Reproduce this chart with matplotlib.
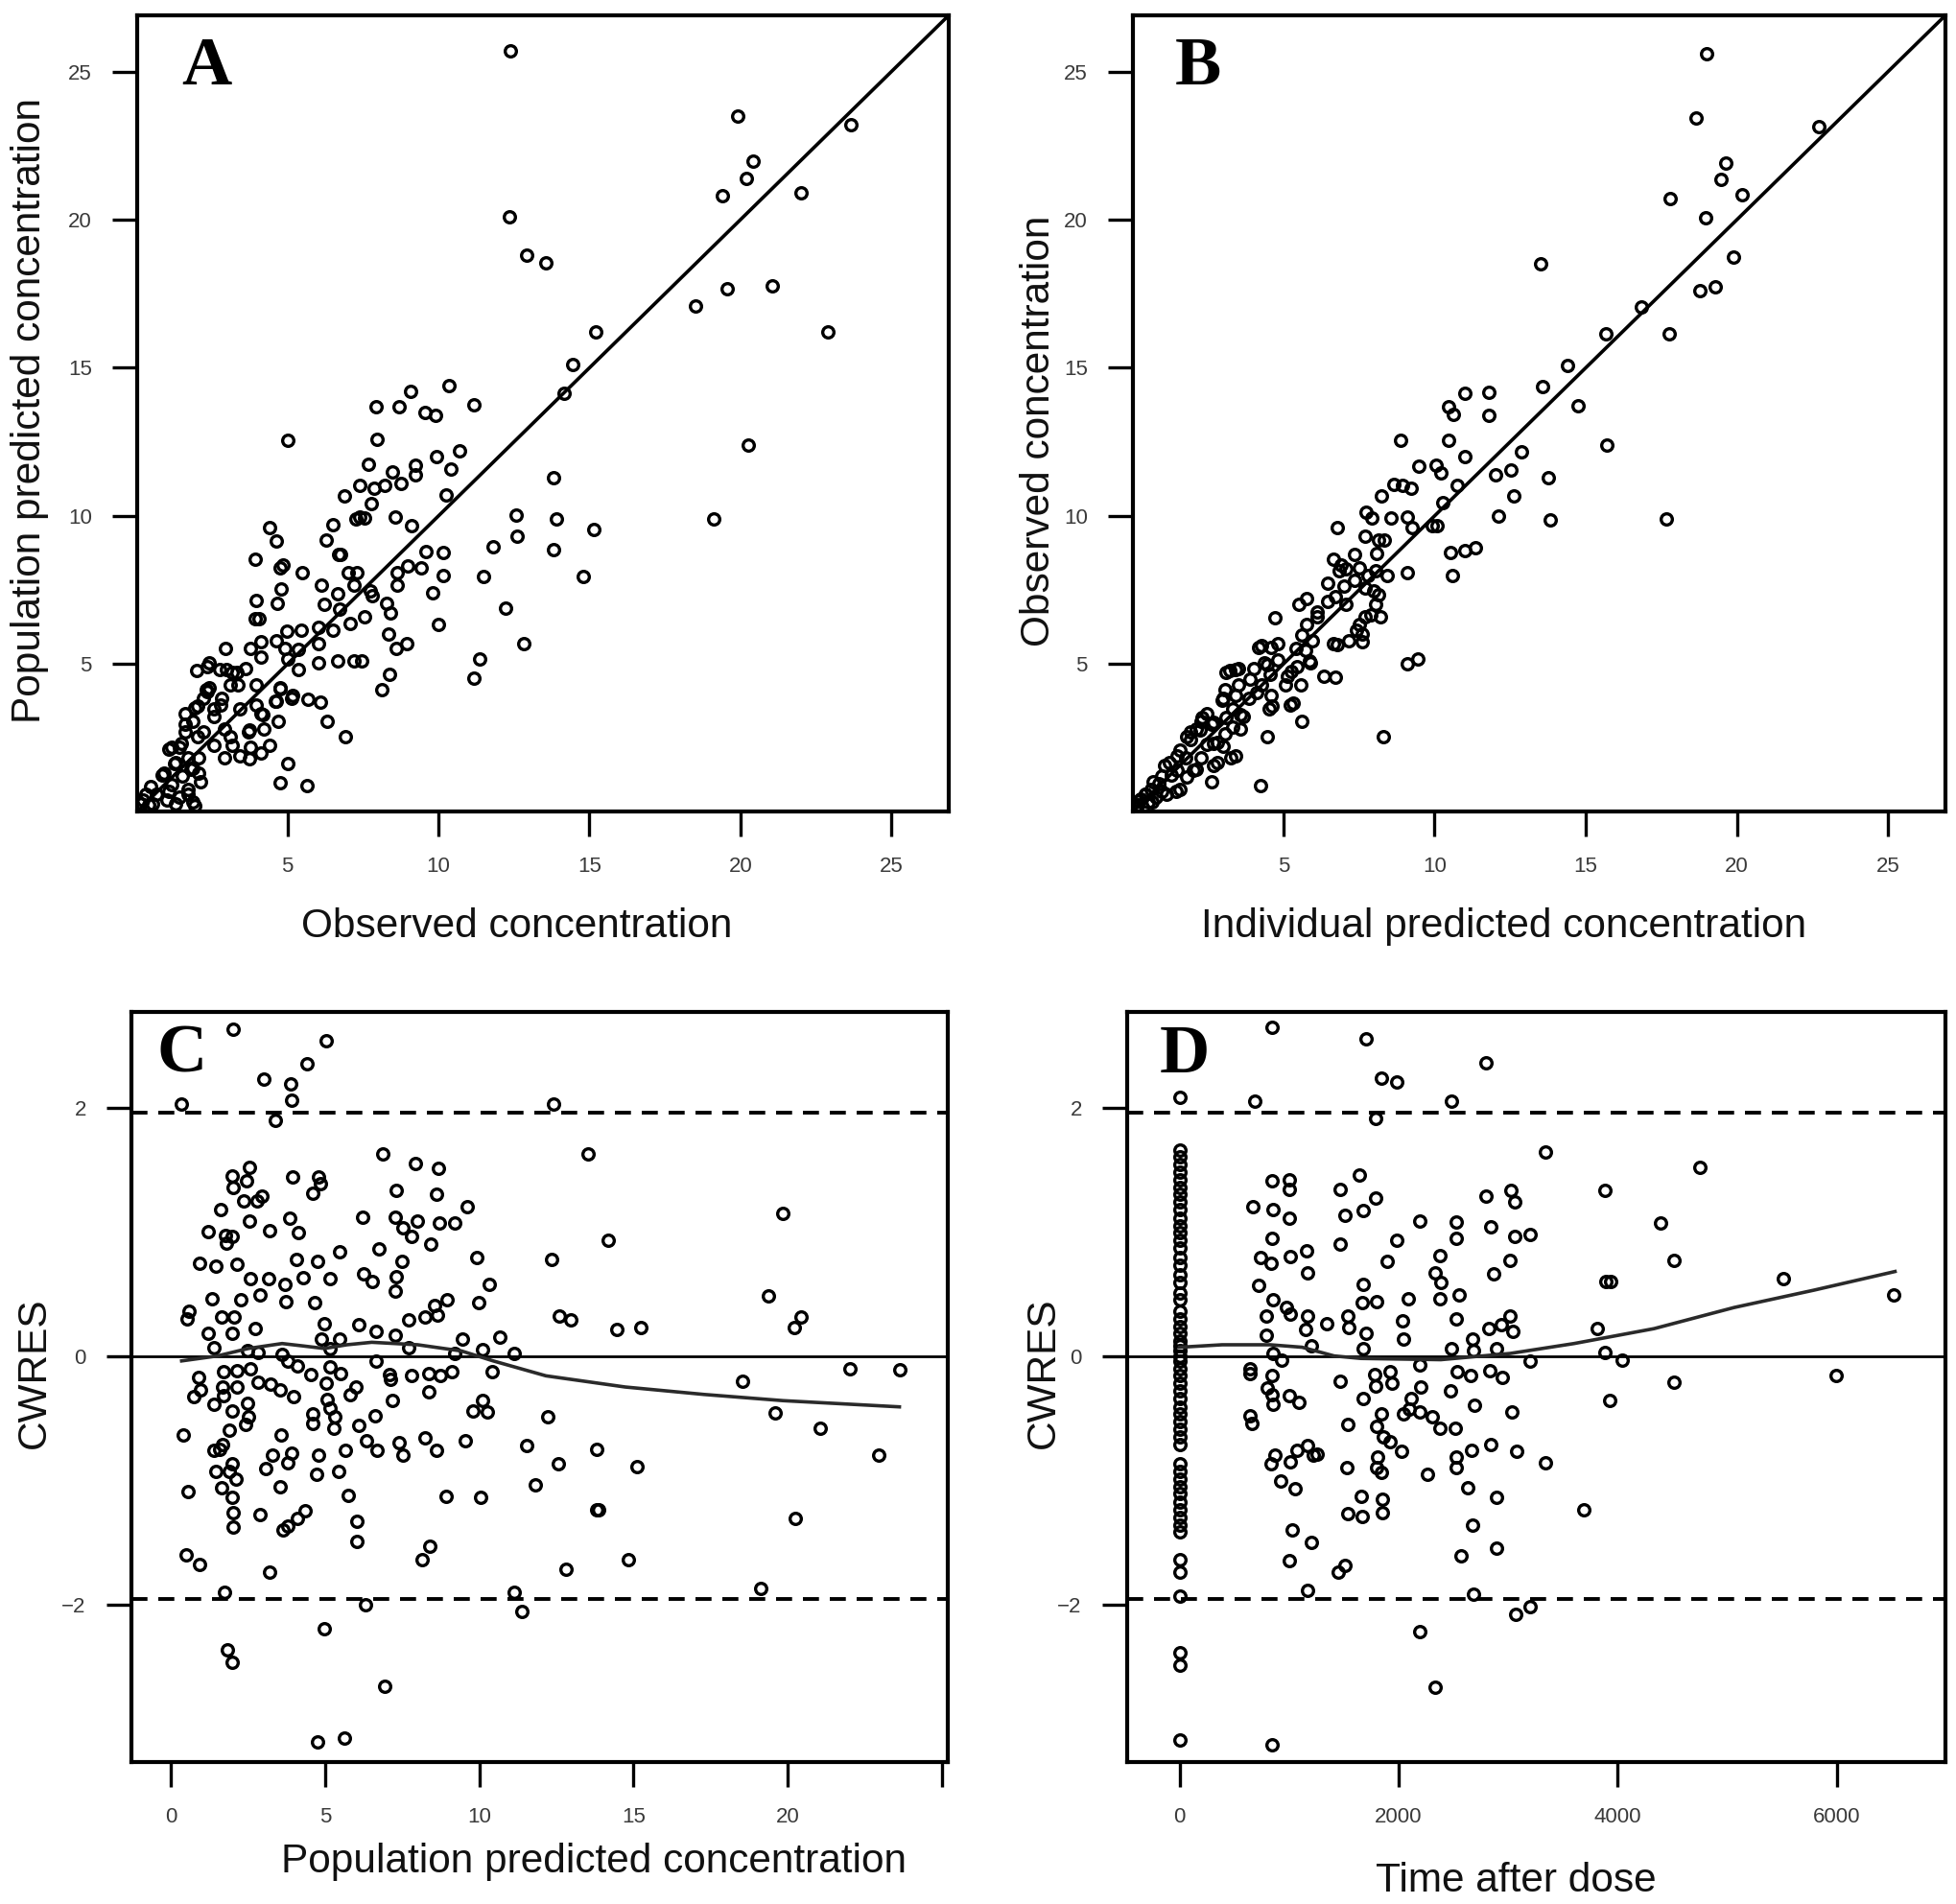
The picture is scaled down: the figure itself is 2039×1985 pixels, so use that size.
import matplotlib
matplotlib.use("Agg")
import matplotlib.pyplot as plt
from matplotlib import font_manager

# ---- data ----
# panel A: observed concentration (x) vs population predicted concentration (y)
a_points = [
    (12.39, 25.69), (19.9, 23.5), (23.66, 23.2), (20.43, 21.97), (20.2, 21.4), (19.4, 20.8),
    (22.0, 20.9), (12.34, 20.1), (12.93, 18.8), (13.54, 18.55), (19.57, 17.66), (21.04, 17.77),
    (18.5, 17.1), (15.21, 16.2), (22.9, 16.2), (14.46, 15.1), (14.15, 14.15), (10.34, 14.4),
    (9.07, 14.2), (7.92, 13.7), (8.69, 13.7), (9.54, 13.5), (9.9, 13.4), (11.17, 13.75),
    (20.27, 12.4), (5.0, 12.55), (7.97, 12.58), (10.69, 12.2), (9.94, 12.0), (7.68, 11.74),
    (10.41, 11.57), (8.46, 11.48), (9.23, 11.7), (9.23, 11.4), (13.82, 11.3), (6.88, 10.68),
    (7.38, 11.03), (7.87, 10.95), (8.23, 11.03), (8.76, 11.1), (10.25, 10.7), (7.77, 10.4),
    (7.38, 9.97), (7.26, 9.89), (7.54, 9.92), (8.58, 9.97), (9.1, 9.67), (12.58, 10.03),
    (13.9, 9.89), (19.12, 9.9), (15.14, 9.53), (12.6, 9.32), (4.41, 9.62), (4.62, 9.14),
    (6.5, 9.71), (6.27, 9.18), (6.69, 8.7), (6.76, 8.7), (3.92, 8.53), (4.76, 8.26),
    (4.84, 8.35), (5.49, 8.09), (9.57, 8.79), (10.17, 8.76), (9.44, 8.26), (8.97, 8.3),
    (8.64, 8.1), (11.82, 8.97), (13.82, 8.85), (11.49, 7.95), (10.17, 8.0), (8.62, 7.65),
    (14.81, 7.95), (7.02, 8.09), (7.29, 8.09), (7.19, 7.65), (6.13, 7.65), (4.79, 7.54),
    (3.96, 7.15), (4.67, 7.05), (6.2, 7.03), (6.65, 7.38), (6.71, 6.85), (7.75, 7.47),
    (7.82, 7.3), (8.27, 7.06), (8.41, 6.71), (9.8, 7.41), (12.23, 6.89), (3.92, 6.53),
    (4.04, 6.53), (7.56, 6.59), (7.07, 6.36), (10.01, 6.32), (8.36, 6.0), (8.6, 5.53),
    (8.96, 5.7), (12.81, 5.7), (4.98, 6.11), (5.45, 6.14), (6.01, 6.23), (6.5, 6.14),
    (4.62, 5.79), (2.95, 5.53), (4.13, 5.74), (3.78, 5.53), (5.35, 5.48), (6.04, 5.7),
    (6.65, 5.09), (7.19, 5.12), (7.44, 5.12), (6.04, 5.03), (5.0, 5.17), (5.35, 4.82),
    (11.37, 5.17), (11.17, 4.52), (8.37, 4.65), (8.13, 4.12), (2.39, 5.03), (1.99, 4.79),
    (2.74, 4.82), (3.17, 4.73), (3.61, 4.86), (3.35, 4.29), (3.96, 4.29), (4.74, 4.2),
    (5.17, 3.94), (5.66, 3.8), (6.08, 3.71), (4.62, 3.76), (2.3, 4.12), (2.83, 3.85),
    (2.01, 3.59), (2.57, 3.5), (3.43, 3.5), (4.13, 3.32), (4.69, 3.06), (6.32, 3.06),
    (6.91, 2.53), (1.87, 3.06), (1.61, 2.71), (2.22, 2.71), (2.91, 2.8), (3.7, 2.71),
    (4.22, 2.8), (3.17, 2.27), (3.78, 2.18), (4.39, 2.27), (2.91, 1.83), (3.75, 1.79),
    (4.13, 2.0), (5.0, 1.65), (4.74, 1.0), (5.63, 0.89), (1.43, 2.18), (1.7, 1.83),
    (2.04, 1.83), (1.17, 2.18), (1.26, 1.65), (1.87, 1.47), (1.52, 1.21), (2.04, 1.3),
    (0.91, 1.3), (1.17, 0.94), (1.7, 0.77), (0.48, 0.86), (0.65, 0.59), (0.22, 0.41),
    (1.0, 0.41), (1.87, 0.33), (0.39, 0.24), (1.43, 0.5), (2.39, 4.2), (2.57, 3.23),
    (1.61, 3.32), (2.22, 3.85), (4.92, 5.52), (4.11, 5.25), (2.35, 4.92), (2.99, 4.81),
    (3.31, 4.71), (2.35, 4.06), (3.09, 4.28), (4.59, 3.74), (5.13, 3.84), (4.76, 4.17),
    (1.92, 3.52), (2.77, 3.63), (3.95, 3.63), (4.17, 3.3), (3.74, 2.76), (1.06, 2.12),
    (1.6, 2.98), (1.49, 2.33), (2.03, 2.55), (0.85, 1.25), (1.28, 1.68), (1.81, 1.46),
    (2.13, 1.03), (2.56, 2.27), (3.09, 2.55), (3.42, 1.9), (0.31, 0.6), (1.06, 0.71),
    (1.7, 0.6), (0.53, 0.28), (1.28, 0.28), (1.92, 0.22), (0.15, 0.28),
]

# panel B: individual predicted concentration (x) vs observed concentration (y)
b_points = [
    (19.01, 25.6), (18.64, 23.45), (22.71, 23.13), (19.64, 21.9), (19.46, 21.35), (20.18, 20.85),
    (17.79, 20.73), (18.96, 20.08), (13.51, 18.51), (19.9, 18.74), (18.78, 17.62), (19.27, 17.72),
    (16.83, 17.04), (15.67, 16.14), (17.75, 16.14), (14.4, 15.07), (13.56, 14.37), (14.73, 13.73),
    (11.01, 14.14), (11.79, 14.16), (10.47, 13.7), (10.61, 13.43), (11.79, 13.38), (15.69, 12.38),
    (8.89, 12.56), (10.47, 12.56), (10.99, 12.0), (12.88, 12.17), (9.49, 11.68), (10.05, 11.71),
    (10.21, 11.45), (12.02, 11.38), (12.51, 11.55), (13.77, 11.29), (10.76, 11.03), (12.63, 10.68),
    (8.65, 11.06), (8.95, 11.03), (9.23, 10.94), (8.25, 10.66), (10.28, 10.45), (7.74, 10.13),
    (7.93, 9.92), (8.56, 9.92), (9.09, 9.96), (12.11, 9.99), (13.84, 9.87), (17.68, 9.89),
    (6.78, 9.61), (9.26, 9.61), (9.91, 9.66), (10.07, 9.66), (7.69, 9.31), (8.15, 9.17),
    (8.35, 9.17), (8.07, 8.73), (10.54, 8.78), (11.01, 8.83), (11.36, 8.92), (10.59, 7.99),
    (9.11, 8.07), (8.44, 7.99), (6.64, 8.55), (6.9, 8.34), (7.08, 8.2), (7.34, 8.69),
    (7.51, 8.25), (7.78, 7.99), (8.04, 8.16), (6.47, 7.73), (7.0, 7.64), (7.34, 7.82),
    (7.69, 7.55), (8.0, 7.46), (8.04, 7.02), (8.21, 6.58), (7.9, 6.67), (5.77, 7.2),
    (5.51, 7.02), (6.47, 7.11), (6.73, 7.29), (7.08, 7.02), (4.72, 6.55), (5.77, 6.32),
    (6.12, 6.58), (7.51, 6.32), (7.43, 6.14), (7.6, 5.74), (7.17, 5.79), (6.64, 5.7),
    (6.78, 5.65), (5.59, 5.97), (5.94, 5.79), (4.28, 5.62), (4.81, 5.7), (5.42, 5.53),
    (5.85, 5.09), (9.09, 5.0), (9.44, 5.18), (3.24, 4.79), (3.5, 4.83), (4.02, 4.83),
    (4.46, 4.97), (4.55, 4.65), (5.25, 4.74), (5.07, 4.3), (6.33, 4.6), (6.73, 4.56),
    (3.5, 4.3), (3.06, 4.12), (4.11, 4.03), (4.63, 3.59), (5.33, 3.68), (5.59, 3.06),
    (2.97, 3.77), (3.32, 3.5), (2.45, 3.33), (3.67, 3.24), (3.59, 2.8), (4.46, 2.54),
    (8.3, 2.54), (2.1, 2.8), (2.62, 2.98), (3.06, 2.63), (1.93, 2.45), (2.45, 2.28),
    (3.41, 1.89), (2.8, 1.66), (1.58, 2.1), (1.75, 1.84), (2.28, 1.84), (1.23, 1.66),
    (1.49, 1.4), (2.01, 1.4), (2.62, 1.01), (4.23, 0.9), (1.58, 0.78), (0.97, 1.22),
    (0.88, 0.96), (0.62, 0.78), (0.44, 0.61), (0.79, 0.52), (0.27, 0.43), (0.53, 0.34),
    (0.18, 0.26), (1.14, 0.61), (1.93, 2.71), (2.28, 3.06), (2.8, 2.36), (6.84, 8.16),
    (8.13, 7.35), (7.7, 6.6), (7.59, 6.0), (6.1, 6.76), (5.72, 5.46), (5.88, 5.03),
    (5.45, 4.92), (5.13, 4.6), (5.56, 4.28), (5.24, 3.63), (4.17, 5.57), (4.6, 5.57),
    (4.38, 5.03), (4.81, 5.14), (3.09, 4.71), (3.42, 4.81), (3.9, 4.49), (4.27, 4.28),
    (4.6, 3.95), (4.54, 3.47), (2.99, 3.84), (3.42, 3.95), (3.85, 3.84), (2.29, 3.19),
    (2.67, 3.03), (3.09, 3.19), (3.58, 3.3), (3.31, 2.87), (1.81, 2.55), (2.24, 2.76),
    (2.67, 2.33), (2.99, 2.22), (3.26, 1.84), (2.67, 1.57), (2.13, 1.46), (1.49, 1.9),
    (1.06, 1.57), (1.28, 1.25), (1.81, 1.19), (1.44, 0.71), (0.69, 1.03), (0.96, 0.71),
    (0.42, 0.6), (0.21, 0.39), (0.64, 0.33), (0.1, 0.17),
]

# panel C: population predicted concentration (x) vs CWRES (y)
c_points = [
    (2.0, 2.63), (5.02, 2.54), (4.4, 2.35), (3.01, 2.23), (3.87, 2.19), (3.9, 2.06), (0.34, 2.03),
    (3.37, 1.9), (12.41, 2.03), (6.85, 1.63), (13.53, 1.63), (7.91, 1.55), (8.68, 1.51),
    (1.97, 1.45), (2.53, 1.52), (2.43, 1.41), (2.02, 1.36), (3.94, 1.44), (4.79, 1.44),
    (4.83, 1.39), (4.59, 1.31), (7.29, 1.33), (8.62, 1.3), (9.59, 1.2), (2.95, 1.29),
    (2.79, 1.25), (2.36, 1.25), (1.59, 1.18), (19.86, 1.15), (6.22, 1.12), (7.26, 1.12),
    (7.98, 1.09), (8.7, 1.07), (9.21, 1.07), (3.85, 1.11), (2.53, 1.09), (1.2, 1.0),
    (3.2, 1.01), (4.14, 0.99), (7.53, 1.03), (7.79, 0.96), (1.75, 0.97), (1.97, 0.96),
    (1.8, 0.91), (14.18, 0.93), (8.41, 0.9), (5.45, 0.84), (6.75, 0.86), (0.91, 0.75),
    (1.44, 0.72), (2.14, 0.74), (4.07, 0.78), (4.76, 0.76), (7.5, 0.76), (9.93, 0.79),
    (12.33, 0.78), (2.57, 0.62), (3.17, 0.62), (3.68, 0.58), (4.28, 0.63), (5.14, 0.62),
    (6.25, 0.66), (6.51, 0.6), (7.29, 0.64), (7.28, 0.52), (10.31, 0.58), (19.38, 0.48),
    (1.32, 0.46), (2.26, 0.45), (2.88, 0.49), (3.73, 0.44), (4.66, 0.43), (8.94, 0.45),
    (8.54, 0.41), (9.97, 0.43), (0.57, 0.36), (0.51, 0.3), (1.63, 0.31), (2.05, 0.31),
    (12.59, 0.32), (12.96, 0.29), (14.47, 0.21), (15.24, 0.23), (20.43, 0.31), (20.21, 0.23),
    (1.2, 0.18), (1.97, 0.18), (2.74, 0.22), (4.97, 0.26), (6.08, 0.25), (6.64, 0.2),
    (7.26, 0.17), (7.71, 0.29), (8.22, 0.31), (8.65, 0.33), (9.45, 0.14), (10.65, 0.15),
    (1.4, 0.07), (2.48, 0.04), (2.82, 0.03), (4.88, 0.14), (5.45, 0.14), (5.14, 0.06),
    (7.71, 0.07), (9.21, 0.02), (10.1, 0.05), (11.13, 0.02), (3.6, 0.01), (6.64, -0.04),
    (3.77, -0.04), (22.02, -0.1), (23.65, -0.11), (0.89, -0.17), (1.71, -0.13), (2.14, -0.12),
    (2.57, -0.1), (4.11, -0.08), (4.54, -0.15), (5.14, -0.09), (5.51, -0.14), (7.07, -0.15),
    (7.79, -0.16), (8.36, -0.14), (8.73, -0.16), (9.11, -0.13), (10.41, -0.13), (7.1, -0.19),
    (18.53, -0.2), (0.94, -0.27), (1.68, -0.25), (2.14, -0.25), (2.82, -0.21), (3.22, -0.23),
    (3.54, -0.27), (3.97, -0.33), (5.02, -0.22), (5.99, -0.25), (5.82, -0.31), (8.36, -0.29),
    (0.74, -0.33), (1.71, -0.32), (5.05, -0.35), (7.19, -0.36), (1.4, -0.39), (2.48, -0.38),
    (5.14, -0.42), (10.1, -0.36), (9.79, -0.44), (10.27, -0.45), (1.97, -0.44), (2.5, -0.49),
    (4.59, -0.47), (5.31, -0.49), (6.61, -0.48), (19.59, -0.46), (12.23, -0.49), (2.4, -0.55),
    (4.59, -0.54), (5.27, -0.58), (6.08, -0.56), (1.88, -0.6), (21.06, -0.58), (0.38, -0.64),
    (3.56, -0.64), (6.34, -0.68), (8.25, -0.66), (9.55, -0.68), (1.68, -0.71), (7.4, -0.7),
    (1.58, -0.75), (1.4, -0.76), (6.68, -0.76), (8.6, -0.76), (11.52, -0.72), (13.82, -0.75),
    (3.29, -0.8), (3.9, -0.78), (4.78, -0.8), (5.65, -0.76), (7.53, -0.8), (22.95, -0.8),
    (3.77, -0.86), (1.97, -0.87), (12.55, -0.87), (15.12, -0.89), (3.08, -0.91), (1.46, -0.93),
    (1.88, -0.93), (4.71, -0.95), (5.43, -0.93), (2.09, -0.99), (1.63, -1.06), (3.54, -1.05),
    (11.82, -1.04), (0.55, -1.09), (1.97, -1.14), (5.74, -1.12), (8.92, -1.13), (10.03, -1.14),
    (2.0, -1.26), (2.88, -1.28), (4.35, -1.25), (13.82, -1.24), (13.87, -1.24), (4.11, -1.31),
    (3.77, -1.37), (3.63, -1.4), (2.02, -1.38), (6.01, -1.33), (20.26, -1.31), (6.01, -1.49),
    (0.48, -1.6), (0.91, -1.68), (8.39, -1.53), (8.15, -1.64), (3.18, -1.74), (12.81, -1.72),
    (14.83, -1.64), (1.73, -1.9), (11.13, -1.9), (11.37, -2.06), (6.32, -2.0), (19.14, -1.87),
    (4.97, -2.2), (1.83, -2.37), (1.97, -2.47), (6.92, -2.66), (4.76, -3.11), (5.63, -3.08),
]

# smooth (loess) curve drawn in panel C
c_smooth = [
    (0.34, -0.04), (1.5, 0.0), (2.5, 0.06), (3.6, 0.1), (4.3, 0.08), (4.97, 0.06), (5.7, 0.09),
    (6.51, 0.11), (8.0, 0.09), (9.42, 0.04), (10.45, -0.04), (12.16, -0.16), (14.73, -0.25),
    (17.29, -0.31), (19.86, -0.36), (23.63, -0.41),
]

# panel D: CWRES of the samples taken at time 0
d_cwres_time0 = [
    2.08, 1.66, 1.6, 1.54, 1.48, 1.42, 1.36, 1.3, 1.24, 1.18, 1.11, 1.05, 0.99, 0.93, 0.87,
    0.79, 0.73, 0.65, 0.59, 0.51, 0.45, 0.36, 0.3, 0.24, 0.18, 0.12, 0.08, 0.04, 0.0, -0.04,
    -0.1, -0.16, -0.22, -0.28, -0.34, -0.41, -0.47, -0.53, -0.59, -0.65, -0.71, -0.87, -0.93,
    -0.99, -1.05, -1.11, -1.18, -1.24, -1.3, -1.36, -1.42, -1.64, -1.74, -1.93, -2.39, -2.49,
    -3.09,
]

# panel D: time after dose (x) vs CWRES (y), samples after time 0
d_points = [
    (842, 2.65), (1703, 2.55), (2798, 2.36), (1839, 2.24), (1985, 2.21), (686, 2.05), (2482, 2.05),
    (1791, 1.91), (3343, 1.64), (4749, 1.52), (842, 1.41), (1002, 1.42), (1002, 1.34), (1465, 1.34),
    (1645, 1.46), (1791, 1.27), (3883, 1.33), (2793, 1.29), (3027, 1.33), (3056, 1.24), (672, 1.2),
    (852, 1.18), (1002, 1.11), (1513, 1.13), (1679, 1.17), (2190, 1.09), (2521, 1.08), (2521, 0.95),
    (2837, 1.04), (3056, 0.96), (3202, 0.98), (4389, 1.07), (842, 0.95), (1465, 0.9), (1985, 0.93),
    (740, 0.79), (837, 0.75), (1012, 0.8), (1158, 0.85), (1168, 0.67), (1898, 0.76), (2375, 0.81),
    (2336, 0.67), (3017, 0.77), (2866, 0.66), (4516, 0.77), (720, 0.57), (2384, 0.59), (852, 0.45),
    (1679, 0.58), (1664, 0.43), (1800, 0.44), (2083, 0.46), (2375, 0.46), (2550, 0.49), (3893, 0.6),
    (3932, 0.6), (5513, 0.62), (6521, 0.49), (788, 0.32), (973, 0.39), (1012, 0.34), (1168, 0.32),
    (1148, 0.21), (1343, 0.26), (1538, 0.32), (1547, 0.23), (2034, 0.28), (2044, 0.14), (2521, 0.3),
    (2676, 0.14), (2822, 0.22), (2939, 0.25), (3017, 0.32), (3041, 0.2), (3810, 0.22), (788, 0.17),
    (1703, 0.18), (1207, 0.08), (1679, 0.06), (2482, 0.06), (2686, 0.04), (2890, 0.06), (3883, 0.03),
    (852, 0.02), (934, -0.03), (4039, -0.03), (3202, -0.04), (2190, -0.07), (642, -0.1), (647, -0.14),
    (842, -0.16), (1781, -0.15), (1922, -0.13), (2530, -0.13), (2652, -0.16), (2832, -0.12),
    (2944, -0.17), (5990, -0.16), (1465, -0.2), (1791, -0.24), (1937, -0.22), (2200, -0.25),
    (4511, -0.21), (803, -0.26), (842, -0.31), (2472, -0.28), (1002, -0.32), (1085, -0.37),
    (852, -0.39), (1679, -0.34), (2117, -0.34), (2691, -0.4), (3922, -0.36), (2092, -0.43),
    (2044, -0.47), (2190, -0.45), (1839, -0.47), (2302, -0.49), (3032, -0.45), (642, -0.48),
    (657, -0.54), (1538, -0.55), (1800, -0.57), (2375, -0.58), (2516, -0.58), (1859, -0.65),
    (1922, -0.69), (2837, -0.71), (1071, -0.76), (1168, -0.72), (1217, -0.8), (1255, -0.79),
    (2029, -0.77), (2667, -0.76), (3075, -0.77), (866, -0.8), (837, -0.87), (1007, -0.85),
    (1810, -0.81), (1800, -0.9), (1839, -0.94), (2521, -0.81), (2521, -0.9), (1523, -0.9),
    (3343, -0.86), (2263, -0.95), (925, -1.01), (1051, -1.07), (2628, -1.06), (1659, -1.13),
    (1849, -1.15), (2895, -1.14), (3689, -1.24), (1538, -1.27), (1664, -1.29), (1849, -1.26),
    (1027, -1.4), (1207, -1.5), (2676, -1.36), (1002, -1.65), (1450, -1.74), (1509, -1.69),
    (2569, -1.61), (2895, -1.55), (1168, -1.89), (2686, -1.92), (3066, -2.08), (3197, -2.02),
    (2190, -2.22), (2336, -2.67), (842, -3.13),
]

# smooth (loess) curve drawn in panel D
d_smooth = [
    (0, 0.07), (389, 0.09), (827, 0.09), (1119, 0.07), (1411, 0.0), (1655, -0.02), (2384, -0.03),
    (3017, 0.02), (3601, 0.1), (4331, 0.22), (5061, 0.39), (5791, 0.53), (6530, 0.68),
]

conc_ticks = [5, 10, 15, 20, 25]
conc_lim = (0.02, 26.9)
pred_ticks = [0, 5, 10, 15, 20, 25]
pred_tick_labels = ["0", "5", "10", "15", "20", ""]
time_ticks = [0, 2000, 4000, 6000]
cwres_ticks = [-2, 0, 2]
cwres_tick_labels = ["\u22122", "0", "2"]
cwres_ref = 1.96

# ---- fonts ----
installed = {f.name for f in font_manager.fontManager.ttflist}
if "Liberation Sans Narrow" in installed:
    tick_font, tick_size = "Liberation Sans Narrow", 18
else:
    tick_font, tick_size = "Liberation Sans", 16
label_font = "Liberation Sans"
letter_font = "Liberation Serif"

W, H = 2040, 1985
fig = plt.figure(figsize=(W / 100, H / 100), dpi=100)


def add_panel(left, top, right, bottom):
    """axes from pixel box (measured from the top-left corner)"""
    return fig.add_axes([left / W, 1 - bottom / H, (right - left) / W, (bottom - top) / H])


def px_text(x, y, s, **kw):
    fig.text(x / W, 1 - y / H, s, **kw)


def style_axes(ax, xticks, yticks, xlabels=None, ylabels=None):
    for sp in ax.spines.values():
        sp.set_linewidth(3.0)
    ax.tick_params(direction="out", length=19, width=2.4, pad=15, colors="black",
                   labelcolor="#3a3a3a", labelsize=tick_size)
    ax.set_xticks(xticks)
    ax.set_yticks(yticks)
    ax.set_xticklabels(xlabels if xlabels else [str(t) for t in xticks], fontfamily=tick_font)
    ax.set_yticklabels(ylabels if ylabels else [str(t) for t in yticks], fontfamily=tick_font)


def scatter(ax, pts):
    xs = [p[0] for p in pts]
    ys = [p[1] for p in pts]
    ax.plot(xs, ys, "o", ls="none", mfc="none", mec="black", ms=8.4, mew=2.4)


def curve(ax, pts, **kw):
    ax.plot([p[0] for p in pts], [p[1] for p in pts], **kw)


# panel A
ax_a = add_panel(143, 16, 989, 846)
scatter(ax_a, a_points)
ax_a.axline((0, 0), slope=1, color="black", lw=2.6)
ax_a.set_xlim(conc_lim)
ax_a.set_ylim(conc_lim)
style_axes(ax_a, conc_ticks, conc_ticks)

# panel B
ax_b = add_panel(1181, 16, 2028, 846)
scatter(ax_b, b_points)
ax_b.axline((0, 0), slope=1, color="black", lw=2.6)
ax_b.set_xlim(conc_lim)
ax_b.set_ylim(conc_lim)
style_axes(ax_b, conc_ticks, conc_ticks)

# panel C
ax_c = add_panel(137, 1055, 988, 1837)
scatter(ax_c, c_points)
ax_c.axhline(0, color="black", lw=2.0)
for yref in (cwres_ref, -cwres_ref):
    ax_c.axhline(yref, color="black", lw=2.8, linestyle=(0, (4.3, 2.9)))
curve(ax_c, c_smooth, color="#2a2a2a", lw=2.6)
ax_c.set_xlim(-1.29, 25.2)
ax_c.set_ylim(-3.27, 2.77)
style_axes(ax_c, pred_ticks, cwres_ticks, pred_tick_labels, cwres_tick_labels)

# panel D
ax_d = add_panel(1175, 1055, 2028, 1837)
scatter(ax_d, [(0, v) for v in d_cwres_time0])
scatter(ax_d, d_points)
ax_d.axhline(0, color="black", lw=2.0)
for yref in (cwres_ref, -cwres_ref):
    ax_d.axhline(yref, color="black", lw=2.8, linestyle=(0, (4.3, 2.9)))
curve(ax_d, d_smooth, color="#2a2a2a", lw=2.6)
ax_d.set_xlim(-478, 6990)
ax_d.set_ylim(-3.27, 2.77)
style_axes(ax_d, time_ticks, cwres_ticks, None, cwres_tick_labels)

# panel letters
for x, y, s in [(215, 71, "A"), (1249, 71, "B"), (190, 1100, "C"), (1235, 1100, "D")]:
    px_text(x, y, s, fontfamily=letter_font, fontweight="bold", fontsize=52,
            ha="center", va="center")

# axis titles
lab = dict(fontfamily=label_font, fontsize=30.5, color="#111111")
px_text(539, 977, "Observed concentration", ha="center", va="baseline", **lab)
px_text(1568, 977, "Individual predicted concentration", ha="center", va="baseline", **lab)
px_text(619, 1952, "Population predicted concentration", ha="center", va="baseline", **lab)
px_text(1580, 1972, "Time after dose", ha="center", va="baseline", **lab)
px_text(31, 428, "Population predicted concentration", rotation=90, ha="center", va="center", **lab)
px_text(1083, 449, "Observed concentration", rotation=90, ha="center", va="center", **lab)
px_text(36, 1431, "CWRES", rotation=90, ha="center", va="center", **lab)
px_text(1088, 1431, "CWRES", rotation=90, ha="center", va="center", **lab)

fig.savefig("out.png", dpi=100)
